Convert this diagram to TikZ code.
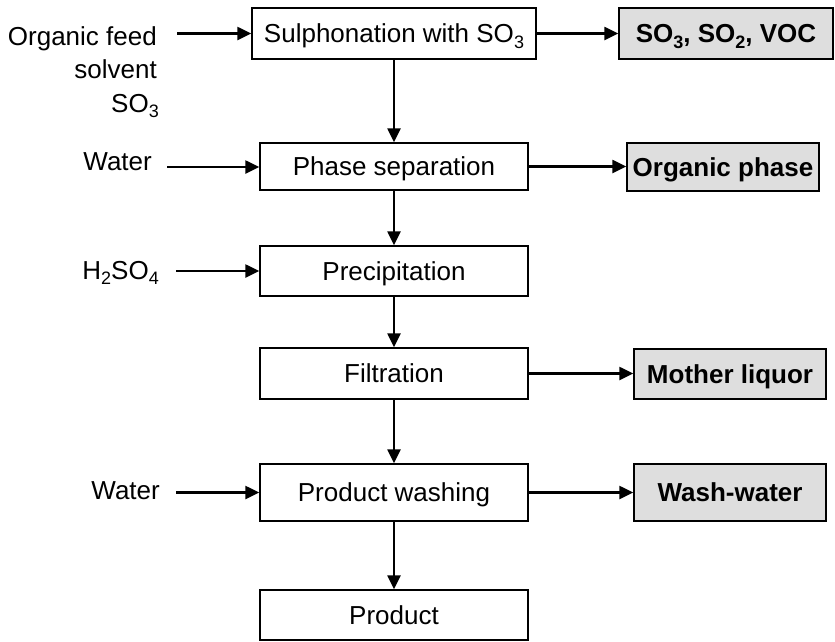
\documentclass[tikz,border=0pt]{standalone}
\usepackage{fontspec}
\setmainfont{Liberation Sans}
\usetikzlibrary{arrows.meta}
\newcommand{\lowsub}[1]{\raisebox{-0.2em}{\fontsize{18}{18}\selectfont #1}}
\begin{document}
\begin{tikzpicture}[x=1pt,y=-1pt,
  proc/.style={draw, line width=1.4pt, inner sep=0pt, anchor=center,
    font=\fontsize{26}{31}\selectfont, text height=18.6pt, text depth=0pt},
  outbox/.style={proc, fill=black!13, font=\fontsize{26}{31}\selectfont\bfseries},
  lbl/.style={inner sep=0pt, anchor=base east, font=\fontsize{26}{31}\selectfont},
  flow/.style={line width=2.4pt, -{Triangle[length=14pt,width=13pt]}}]
\useasboundingbox (0,0) rectangle (835,641);

% process boxes
\node[proc, minimum width=284pt, minimum height=51pt] (sul) at (394,33.5) {Sulphonation with SO\lowsub{3}};
\node[proc, minimum width=268pt, minimum height=47pt] (phs) at (394,166.5) {Phase separation};
\node[proc, minimum width=268pt, minimum height=50pt] (pre) at (394,271) {Precipitation};
\node[proc, minimum width=268pt, minimum height=51pt] (fil) at (394,373.5) {Filtration};
\node[proc, minimum width=268pt, minimum height=57pt] (was) at (394,492.5) {Product washing};
\node[proc, minimum width=268pt, minimum height=50pt] (pro) at (394,615) {Product};

% output boxes
\node[outbox, minimum width=214pt, minimum height=51pt] (gas) at (726,33.5) {SO\lowsub{3}, SO\lowsub{2}, VOC};
\node[outbox, minimum width=192pt, minimum height=48pt] (org) at (723,167) {Organic phase};
\node[outbox, minimum width=192pt, minimum height=50pt] (mot) at (730,374) {Mother liquor};
\node[outbox, minimum width=192pt, minimum height=57pt] (ww) at (730,492.5) {Wash-water};

% input labels
\node[lbl] (feed1) at (157,45) {Organic feed};
\node[lbl] (feed2) at (157,78) {solvent};
\node[lbl] (feed3) at (159,112) {SO\lowsub{3}};
\node[lbl] (wat1) at (152,170) {Water};
\node[lbl] (acid) at (159,279) {H\lowsub{2}SO\lowsub{4}};
\node[lbl] (wat2) at (160,499) {Water};

% input arrow starts
\coordinate (feedS) at (177,33.5);
\coordinate (wat1S) at (167,167);
\coordinate (acidS) at (176,271);
\coordinate (wat2S) at (176,492.5);

\draw[flow] (feedS) -- (feedS -| sul.west);
\draw[flow] (wat1S) -- (wat1S -| phs.west);
\draw[flow] (acidS) -- (acidS -| pre.west);
\draw[flow] (wat2S) -- (wat2S -| was.west);

% main flow
\draw[flow] (sul) -- (phs);
\draw[flow] (phs) -- (pre);
\draw[flow] (pre) -- (fil);
\draw[flow] (fil) -- (was);
\draw[flow] (was) -- (pro);

% outputs
\draw[flow] (sul.east) -- (gas.west);
\draw[flow] (phs.east) -- (phs.east -| org.west);
\draw[flow] (fil.east) -- (fil.east -| mot.west);
\draw[flow] (was.east) -- (was.east -| ww.west);
\end{tikzpicture}
\end{document}
